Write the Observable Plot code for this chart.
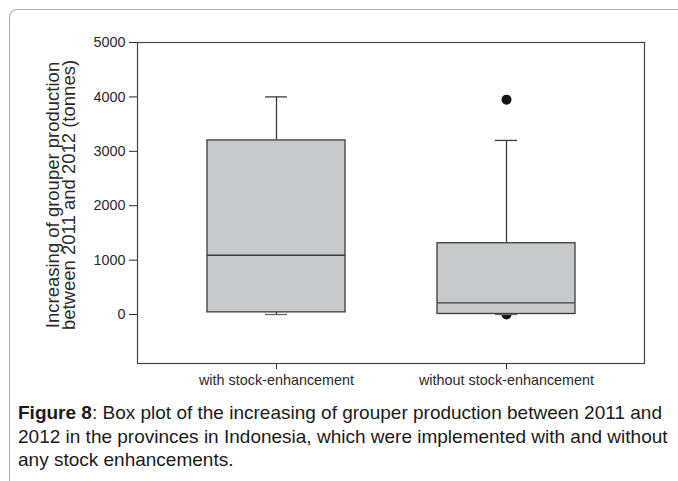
<!DOCTYPE html>
<html>
<head>
<meta charset="utf-8">
<script src="https://cdn.jsdelivr.net/npm/d3@7"></script>
<script src="https://cdn.jsdelivr.net/npm/@observablehq/plot@0.6"></script>
<style>
  html, body { margin: 0; padding: 0; background: #fff; width: 678px; height: 481px; overflow: hidden; }
  #card { position: absolute; left: 9px; top: 9px; width: 720px; height: 520px;
          border-top: 1px solid #b0b0b0; border-left: 1px solid #b0b0b0; border-top-left-radius: 8px; }
  #chart { position: absolute; left: 0; top: 0; }
  #caption { position: absolute; left: 18px; top: 401px; width: 660px;
             font-family: "Liberation Sans", Arial, sans-serif; font-size: 19px; line-height: 23.5px; color: #1a1a1a; white-space: nowrap; }
</style>
</head>
<body>
<div id="card"></div>
<div id="chart"></div>
<div id="caption"><b>Figure 8</b>: Box plot of the increasing of grouper production between 2011 and<br>2012 in the provinces in Indonesia, which were implemented with and without<br>any stock enhancements.</div>
<script>
const groups = ["with stock-enhancement", "without stock-enhancement"];
const lowerWhisker = [0, 0];
const q1 = [40, 10];
const median = [1090, 215];
const q3 = [3200, 1310];
const upperWhisker = [4000, 3200];
const outlierGroup = ["without stock-enhancement", "without stock-enhancement"];
const outlierValue = [3950, 0];
const yTicks = [0, 1000, 2000, 3000, 4000, 5000];
const yTitle = "Increasing of grouper production\nbetween 2011 and 2012 (tonnes)";

const boxes = groups.map((g, i) => ({group: g, lo: lowerWhisker[i], q1: q1[i], med: median[i], q3: q3[i], hi: upperWhisker[i]}));
const outliers = outlierGroup.map((g, i) => ({group: g, value: outlierValue[i]}));

const stroke = "#3c3c3c";
const chart = Plot.plot({
  width: 678, height: 395,
  marginLeft: 137, marginRight: 34, marginTop: 42, marginBottom: 32,
  style: {fontFamily: "'Liberation Sans', Arial, sans-serif", fontSize: "14.4px", color: "#2a2a2a", background: "transparent"},
  x: {domain: groups, paddingInner: 0.4, paddingOuter: 0.302, label: null, tickSize: 6, tickPadding: 5},
  y: {domain: [-900, 5000], ticks: yTicks, tickFormat: "d", label: null, tickSize: 8, tickPadding: 4},
  marks: [
    Plot.dot(outliers, {x: "group", y: "value", r: 5, fill: "#141414", stroke: "none"}),
    Plot.ruleX(boxes, {x: "group", y1: "q3", y2: "hi", stroke, strokeWidth: 1.3}),
    Plot.ruleX(boxes, {x: "group", y1: "lo", y2: "q1", stroke, strokeWidth: 1.3}),
    Plot.barY(boxes, {x: "group", y1: "q1", y2: "q3", fill: "#c8c9cb", stroke, strokeWidth: 1.3}),
    Plot.tickY(boxes, {x: "group", y: "med", stroke, strokeWidth: 1.3}),
    Plot.tickY(boxes, {x: "group", y: "hi", stroke, strokeWidth: 1.3, insetLeft: 58, insetRight: 58}),
    Plot.tickY(boxes, {x: "group", y: "lo", stroke: "#666", strokeWidth: 1.3, insetLeft: 58, insetRight: 58}),
    Plot.frame({stroke: "#444", strokeWidth: 1.2}),
    Plot.text([yTitle], {frameAnchor: "left", textAnchor: "middle", rotate: -90, dx: -76, dy: -8, fontSize: 18.5, lineHeight: 0.9, fill: "#2a2a2a"})
  ]
});
document.getElementById("chart").appendChild(chart);
</script>
</body>
</html>
